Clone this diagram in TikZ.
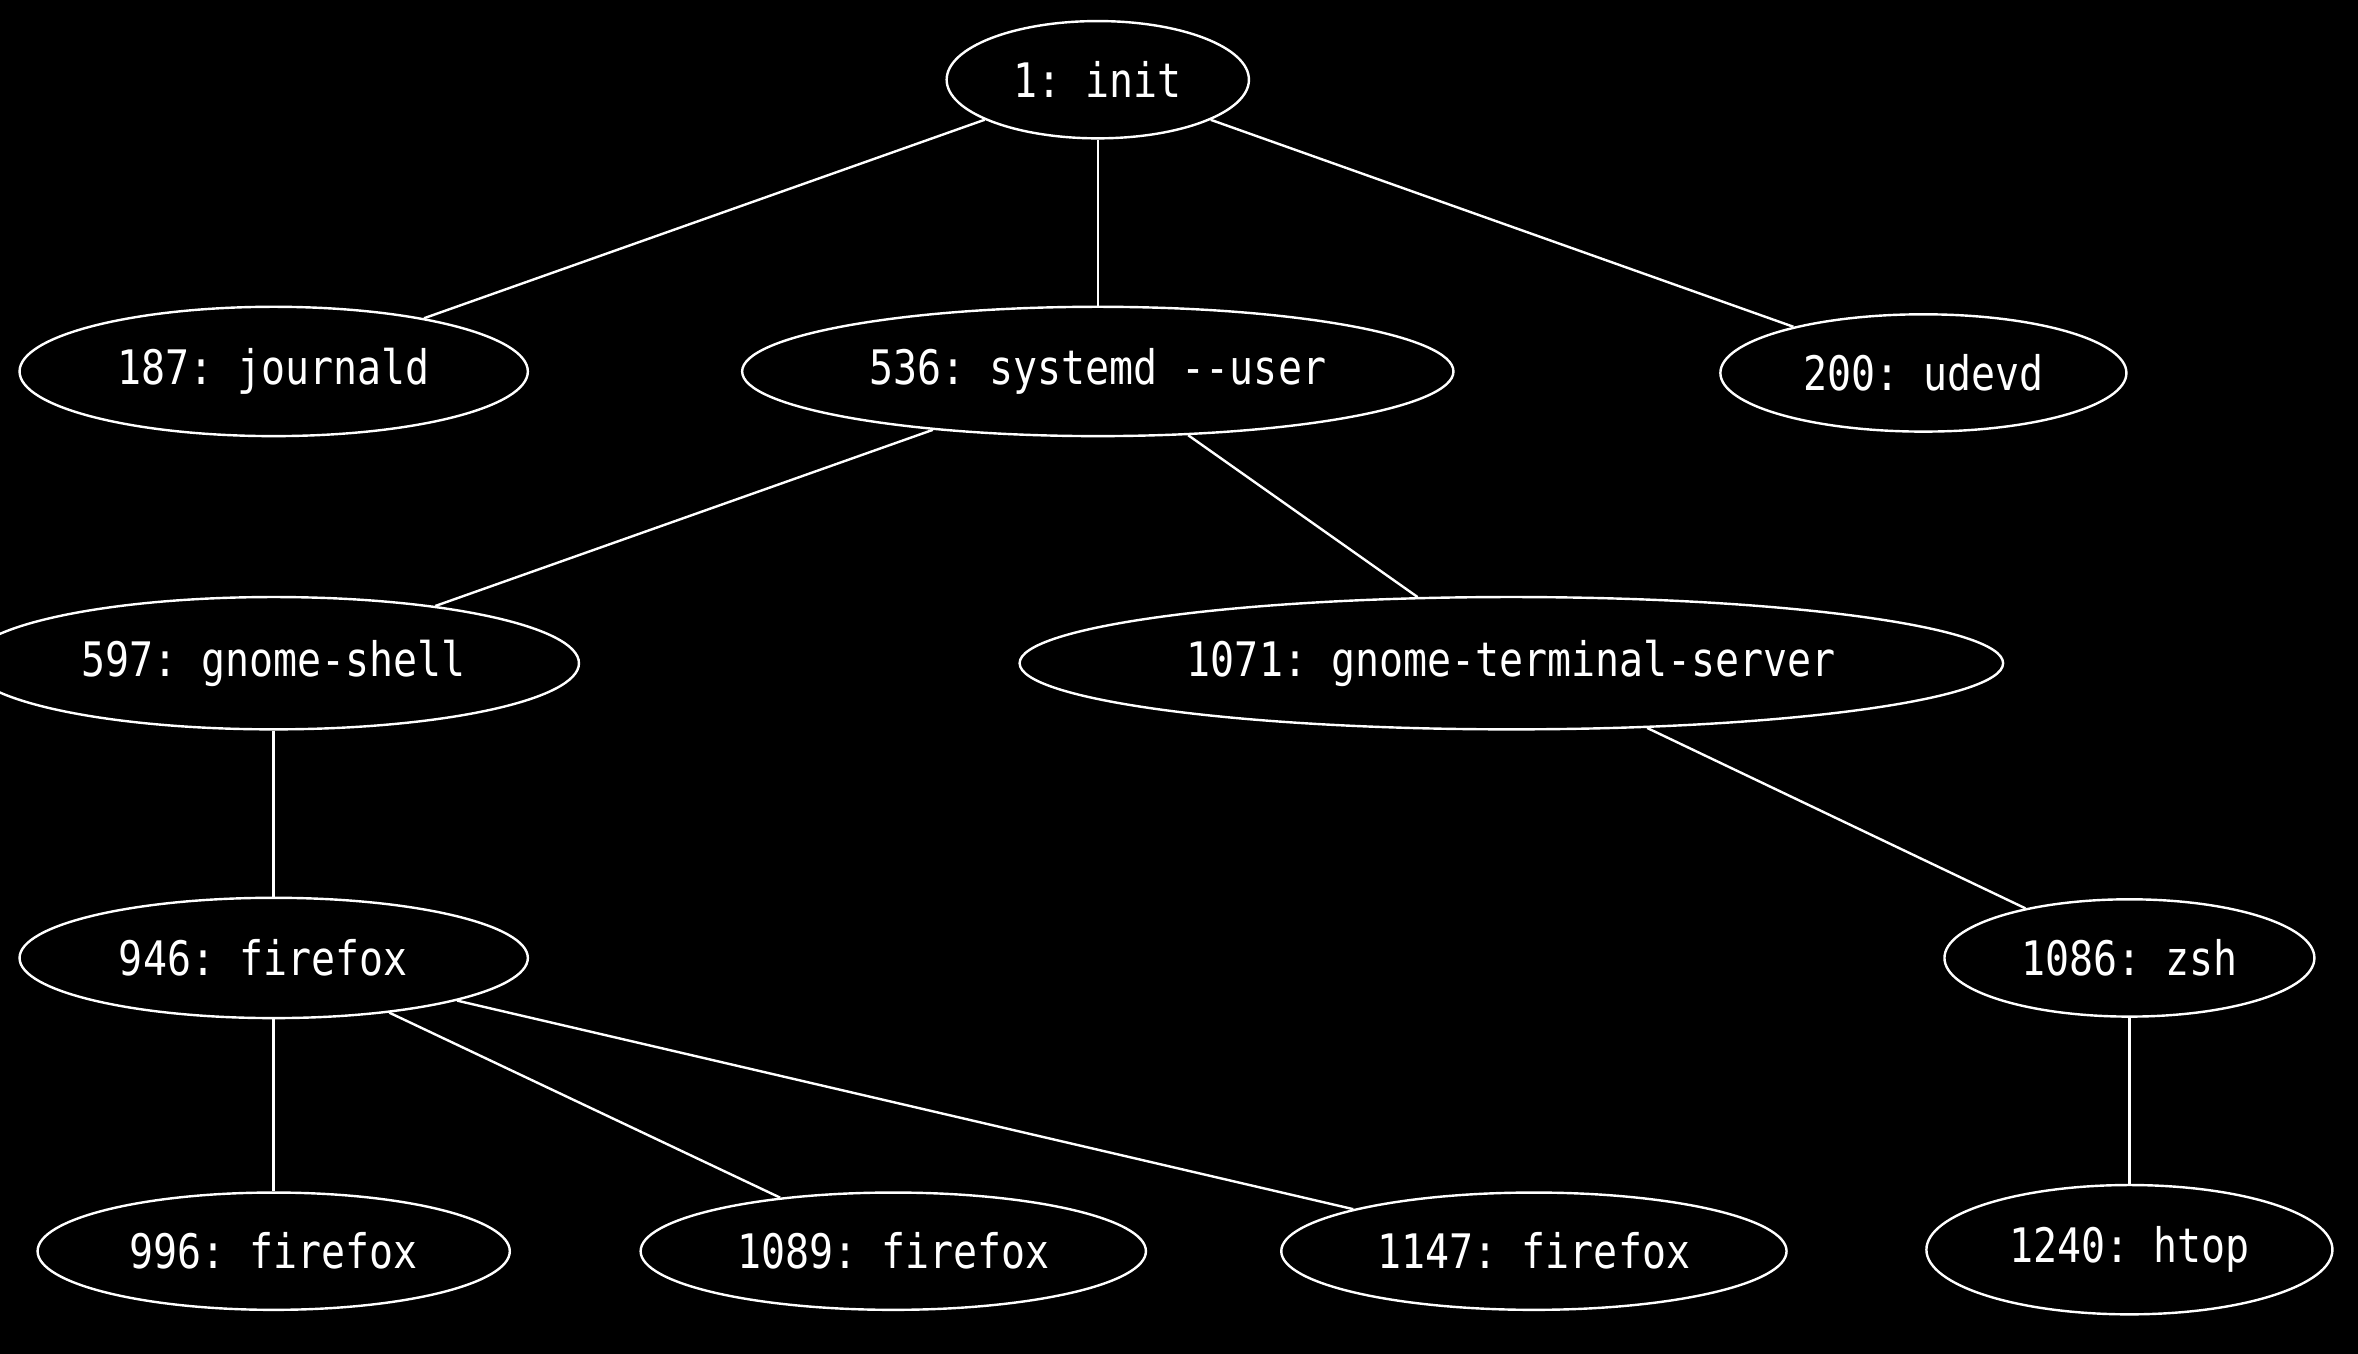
\documentclass[tikz,border=0pt]{standalone}
\usepackage{fontspec}
\setmonofont[FakeStretch=0.84]{DejaVu Sans Mono}
\usetikzlibrary{shapes.geometric}

\begin{document}
\begin{tikzpicture}[x=0.5pt,y=-0.5pt,
	proc/.style={ellipse, draw=white, line width=0.8pt, text=white, inner sep=0pt, font=\ttfamily\fontsize{15.8}{19}\selectfont},
	edge/.style={draw=white, line width=0.8pt}]
	\useasboundingbox (0,0) rectangle (1568,900);
	\fill[black] (-10,-10) rectangle (1578,910);
	\node[proc, minimum width=100.5pt, minimum height=39pt] (init) at (730,53) {1: init};
	\node[proc, minimum width=169pt, minimum height=43pt] (journald) at (182,247) {187: journald};
	\node[proc, minimum width=236.5pt, minimum height=43pt] (systemd) at (730,247) {536: systemd -{}-user};
	\node[proc, minimum width=135pt, minimum height=39pt] (udevd) at (1279,248) {200: udevd};
	\node[proc, minimum width=203pt, minimum height=44pt] (gshell) at (182,441) {597: gnome-shell};
	\node[proc, minimum width=327pt, minimum height=44pt] (gterm) at (1005,441) {1071: gnome-terminal-server};
	\node[proc, minimum width=169pt, minimum height=40pt] (ffA) at (182,637) {946: firefox\hspace*{7pt}};
	\node[proc, minimum width=123pt, minimum height=39pt] (zsh) at (1416,637) {1086: zsh};
	\node[proc, minimum width=157pt, minimum height=39pt] (ffB) at (182,832) {996: firefox};
	\node[proc, minimum width=168pt, minimum height=39pt] (ffC) at (594,832) {1089: firefox};
	\node[proc, minimum width=168pt, minimum height=39pt] (ffD) at (1020,832) {1147: firefox};
	\node[proc, minimum width=135pt, minimum height=43pt] (htop) at (1416,831) {1240: htop};
	\draw[edge] (init) -- (journald);
	\draw[edge] (init) -- (systemd);
	\draw[edge] (init) -- (udevd);
	\draw[edge] (systemd) -- (gshell);
	\draw[edge] (systemd) -- (gterm);
	\draw[edge] (gshell) -- (ffA);
	\draw[edge] (gterm) -- (zsh);
	\draw[edge] (ffA) -- (ffB);
	\draw[edge] (ffA) -- (ffC);
	\draw[edge] (ffA) -- (ffD);
	\draw[edge] (zsh) -- (htop);
\end{tikzpicture}
\end{document}
